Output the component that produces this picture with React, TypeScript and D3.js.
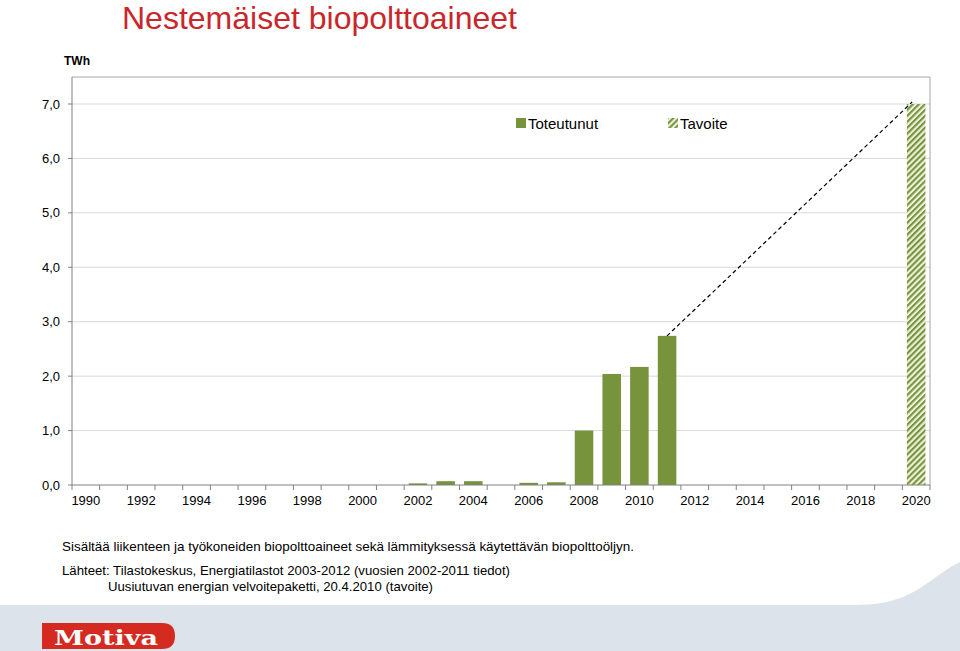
import React from "react";
import * as d3 from "d3";

const years: number[] = d3.range(1990, 2021);
const actualYears = [2002, 2003, 2004, 2006, 2007, 2008, 2009, 2010, 2011];
const actualValues = [0.03, 0.07, 0.07, 0.04, 0.05, 1.0, 2.04, 2.17, 2.74];
const targetYears = [2020];
const targetValues = [7.0];
const yTicks = [0, 1, 2, 3, 4, 5, 6, 7];
const xLabelYears = d3.range(1990, 2021, 2);

const W = 960, H = 651;
const M = { left: 72, right: 930, top: 77, bottom: 485 };
const FONT = "'Liberation Sans', Arial, Helvetica, sans-serif";

export default function App() {
  const x = d3.scaleBand<number>().domain(years).range([M.left, M.right]).paddingInner(0.33).paddingOuter(0.165);
  const xb = d3.scaleBand<number>().domain(years).range([M.left, M.right]);
  const y = d3.scaleLinear().domain([0, 7]).range([M.bottom, 104]);
  const bw = x.bandwidth();
  const cx = (yr: number) => (xb(yr) as number) + xb.bandwidth() / 2;

  const lastI = actualYears.length - 1;
  const line = d3.line<[number, number]>()([
    [cx(actualYears[lastI]), y(actualValues[lastI])],
    [cx(targetYears[0]) - 4, y(targetValues[0]) - 2],
  ]);

  return (
    <svg width={W} height={H} style={{ position: "absolute", left: 0, top: 0, background: "#fff" }} fontFamily={FONT}>
      <defs>
        <pattern id="hatch" patternUnits="userSpaceOnUse" width="4.2" height="4.2" patternTransform="rotate(45)">
          <rect width="4.2" height="4.2" fill="#edf2dc" />
          <rect x="0" y="0" width="2.1" height="4.2" fill="#77933c" />
        </pattern>
      </defs>
      <rect width={W} height={H} fill="#fff" />
      {/* bottom band */}
      <path d="M0,605 L855,605 C895,605 912,594 932,580 C944,571 952,566 960,562 L960,651 L0,651 Z" fill="#dde3ea" />
      {/* Motiva logo */}
      <path d="M42,623 L162,623 Q175,623 175,636 Q175,649 162,649 L42,649 Z" fill="#d42a1f" />
      <text x={106} y={645} textAnchor="middle" fill="#fff" fontFamily="'DejaVu Serif', 'Liberation Serif', serif" fontWeight="bold" fontSize={21} textLength={104} lengthAdjust="spacingAndGlyphs">Motiva</text>

      <text x={122} y={29} fill="#c8272c" fontSize={32}>Nestemäiset biopolttoaineet</text>
      <text x={64} y={65} fontSize={12} fontWeight="bold" fill="#000">TWh</text>

      {/* gridlines */}
      {yTicks.filter(t => t > 0).map(t => (
        <line key={t} x1={M.left} x2={M.right} y1={y(t)} y2={y(t)} stroke="#d9d9d9" strokeWidth={1} />
      ))}
      {/* frame */}
      <line x1={M.left} x2={M.right} y1={M.top} y2={M.top} stroke="#a6a6a6" />
      <line x1={M.right} x2={M.right} y1={M.top} y2={M.bottom} stroke="#a6a6a6" />

      {/* bars */}
      {actualYears.map((yr, i) => (
        <rect key={yr} x={x(yr)} y={y(actualValues[i])} width={bw} height={M.bottom - y(actualValues[i])} fill="#77933c" />
      ))}
      {targetYears.map((yr, i) => (
        <rect key={yr} x={x(yr)} y={y(targetValues[i])} width={bw} height={M.bottom - y(targetValues[i])} fill="url(#hatch)" />
      ))}
      <path d={line || ""} stroke="#000" strokeWidth={1.2} strokeDasharray="4,3" fill="none" />

      {/* axes */}
      <line x1={M.left} x2={M.left} y1={M.top} y2={M.bottom} stroke="#808080" />
      <line x1={M.left} x2={M.right} y1={M.bottom} y2={M.bottom} stroke="#808080" />
      {yTicks.map(t => (
        <g key={t}>
          <line x1={M.left - 4} x2={M.left} y1={y(t)} y2={y(t)} stroke="#808080" />
          <text x={60} y={y(t) + 4.5} textAnchor="end" fontSize={13} fill="#000">{t.toFixed(1).replace(".", ",")}</text>
        </g>
      ))}
      {years.concat([2021]).map(yr => {
        const xx = yr === 2021 ? M.right : (xb(yr) as number);
        return <line key={yr} x1={xx} x2={xx} y1={M.bottom} y2={M.bottom + 5} stroke="#808080" />;
      })}
      {xLabelYears.map(yr => (
        <text key={yr} x={cx(yr)} y={505} textAnchor="middle" fontSize={13} fill="#000">{yr}</text>
      ))}

      {/* legend */}
      <rect x={516} y={118} width={10} height={10} fill="#77933c" />
      <text x={528} y={129} fontSize={15} fill="#000">Toteutunut</text>
      <rect x={668} y={118} width={10} height={10} fill="url(#hatch)" />
      <text x={680} y={129} fontSize={15} fill="#000">Tavoite</text>

      {/* footer */}
      <text x={62} y={551} fontSize={13} fill="#000" textLength={572} lengthAdjust="spacingAndGlyphs">Sisältää liikenteen ja työkoneiden biopolttoaineet sekä lämmityksessä käytettävän biopolttoöljyn.</text>
      <text x={62} y={575} fontSize={13} fill="#000" textLength={448} lengthAdjust="spacingAndGlyphs">Lähteet: Tilastokeskus, Energiatilastot 2003-2012 (vuosien 2002-2011 tiedot)</text>
      <text x={108} y={591} fontSize={13} fill="#000" textLength={325} lengthAdjust="spacingAndGlyphs">Uusiutuvan energian velvoitepaketti, 20.4.2010 (tavoite)</text>
    </svg>
  );
}
